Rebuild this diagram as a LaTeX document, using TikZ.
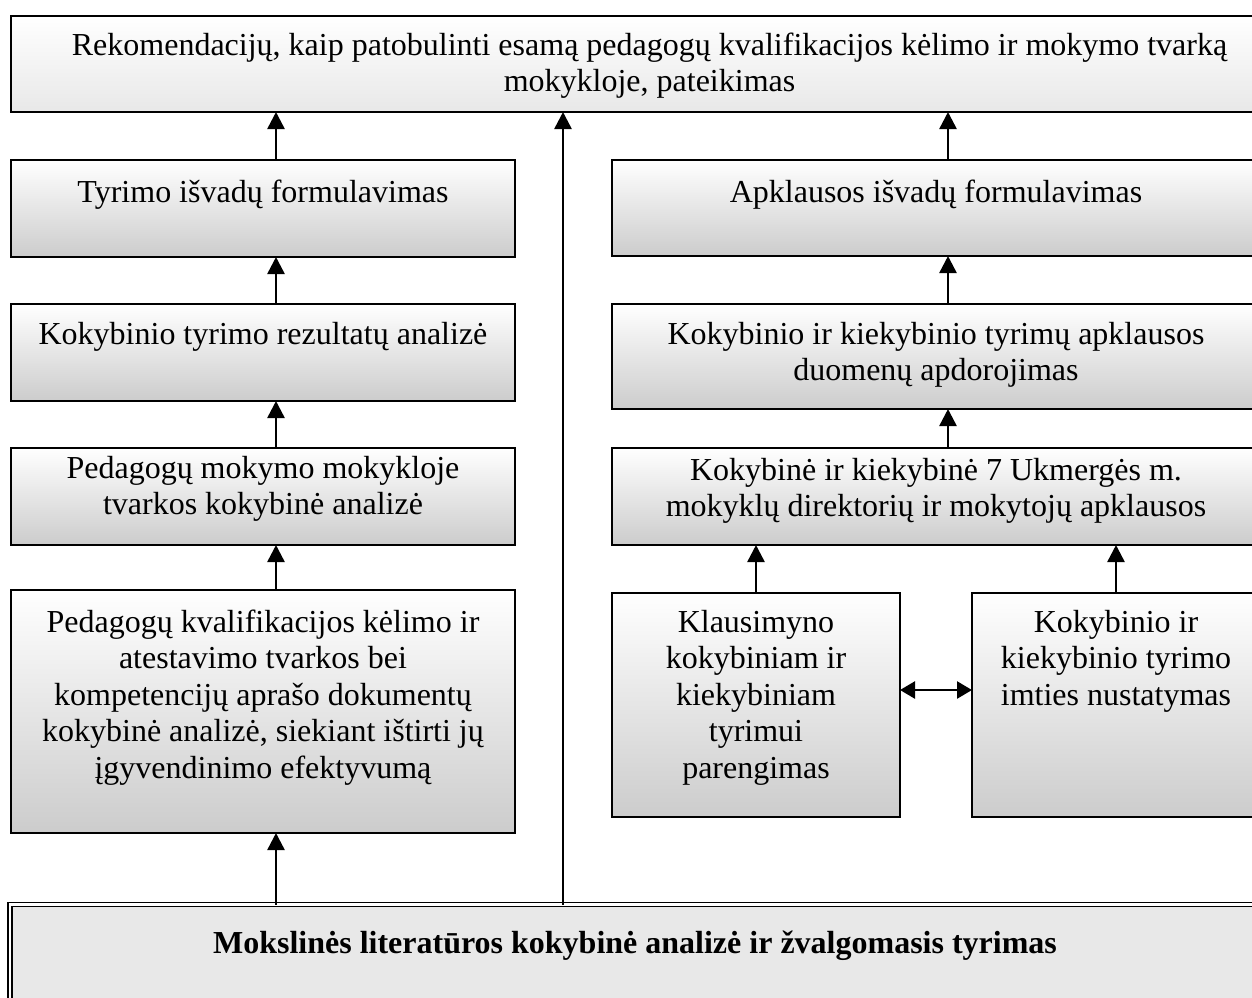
\documentclass[tikz,border=0pt]{standalone}
\usepackage{fontspec}
\setmainfont{Liberation Serif}
\usetikzlibrary{arrows.meta}
\newcommand\boxtxt[4]{\begin{minipage}[c][#1][t]{#2}\centering\vspace*{#3}\strut #4\end{minipage}}
\newcommand\runon{\rule{150pt}{0pt}}
\tikzset{
  x=1pt, y=-1pt,
  every node/.style={font=\fontsize{32}{36.5}\selectfont},
  gbox/.style={draw=black, line width=2pt, inner sep=0pt, outer sep=0pt, top color=white, bottom color=black!20},
  lbox/.style={draw=black, line width=2pt, inner sep=0pt, outer sep=0pt, top color=white, bottom color=black!9},
  bbox/.style={draw=black, line width=1.5pt, double=white, double distance=2.6pt, fill=black!9, inner sep=0pt, outer sep=0pt},
  arr/.style={line width=2.5pt, -{Triangle[length=17pt,width=17pt]}},
  dbl/.style={line width=2.5pt, {Triangle[length=15pt,width=17pt]}-{Triangle[length=15pt,width=17pt]}},
}
\begin{document}
\begin{tikzpicture}
\useasboundingbox (0,0) rectangle (1252,997);
% nodes (boxes on the right run past the picture's edge)
\node[lbox] (top) at (724.5,64) {\boxtxt{96pt}{1277pt}{13.5pt}{Rekomendacijų, kaip patobulinti esamą pedagogų kvalifikacijos kėlimo ir mokymo tvarką\\ mokykloje, pateikimas}\runon};
\node[gbox] (L1) at (263,208.5) {\boxtxt{97pt}{504pt}{16.5pt}{Tyrimo išvadų formulavimas}};
\node[gbox] (L2) at (263,352.5) {\boxtxt{97pt}{504pt}{14.5pt}{Kokybinio tyrimo rezultatų analizė}};
\node[gbox] (L3) at (263,496.5) {\boxtxt{97pt}{504pt}{4.5pt}{Pedagogų mokymo mokykloje\\ tvarkos kokybinė analizė}};
\node[gbox] (L4) at (263,711.5) {\boxtxt{243pt}{504pt}{16.5pt}{Pedagogų kvalifikacijos kėlimo ir\\ atestavimo tvarkos bei\\ kompetencijų aprašo dokumentų\\ kokybinė analizė, siekiant ištirti jų\\ įgyvendinimo efektyvumą}};
\node[gbox] (R1) at (1011,208) {\boxtxt{96pt}{648pt}{16.5pt}{Apklausos išvadų formulavimas}\runon};
\node[gbox] (R2) at (1011,356.5) {\boxtxt{105pt}{648pt}{14.5pt}{Kokybinio ir kiekybinio tyrimų apklausos\\ duomenų apdorojimas}\runon};
\node[gbox] (R3) at (1011,496.5) {\boxtxt{97pt}{648pt}{6.5pt}{Kokybinė ir kiekybinė 7 Ukmergės m.\\ mokyklų direktorių ir mokytojų apklausos}\runon};
\node[gbox] (K) at (756,705) {\boxtxt{224pt}{288pt}{13.5pt}{Klausimyno\\ kokybiniam ir\\ kiekybiniam\\ tyrimui\\ parengimas}};
\node[gbox] (I) at (1191,705) {\boxtxt{224pt}{288pt}{13.5pt}{Kokybinio ir\\ kiekybinio tyrimo\\ imties nustatymas}\runon};
\node[bbox] (B) at (710,962.25) {\boxtxt{115.5pt}{1250pt}{23pt}{\textbf{Mokslinės literatūros kokybinė analizė ir žvalgomasis tyrimas}}\runon};
% connector guides
\coordinate (lx) at (276,0);
\coordinate (cx) at (563,0);
\coordinate (rx) at (948,0);
\coordinate (ix) at (1116,0);
\coordinate (dy) at (0,690);
% connectors
\draw[arr] (L1.north -| lx) -- (top.south -| lx);
\draw[arr] (L2.north -| lx) -- (L1.south -| lx);
\draw[arr] (L3.north -| lx) -- (L2.south -| lx);
\draw[arr] (L4.north -| lx) -- (L3.south -| lx);
\draw[arr] (B.north -| lx) -- (L4.south -| lx);
\draw[arr] (B.north -| cx) -- (top.south -| cx);
\draw[arr] (R1.north -| rx) -- (top.south -| rx);
\draw[arr] (R2.north -| rx) -- (R1.south -| rx);
\draw[arr] (R3.north -| rx) -- (R2.south -| rx);
\draw[arr] (K.north) -- (R3.south -| K.north);
\draw[arr] (I.north -| ix) -- (R3.south -| ix);
\draw[dbl] (K.east |- dy) -- (I.west |- dy);
\end{tikzpicture}
\end{document}
